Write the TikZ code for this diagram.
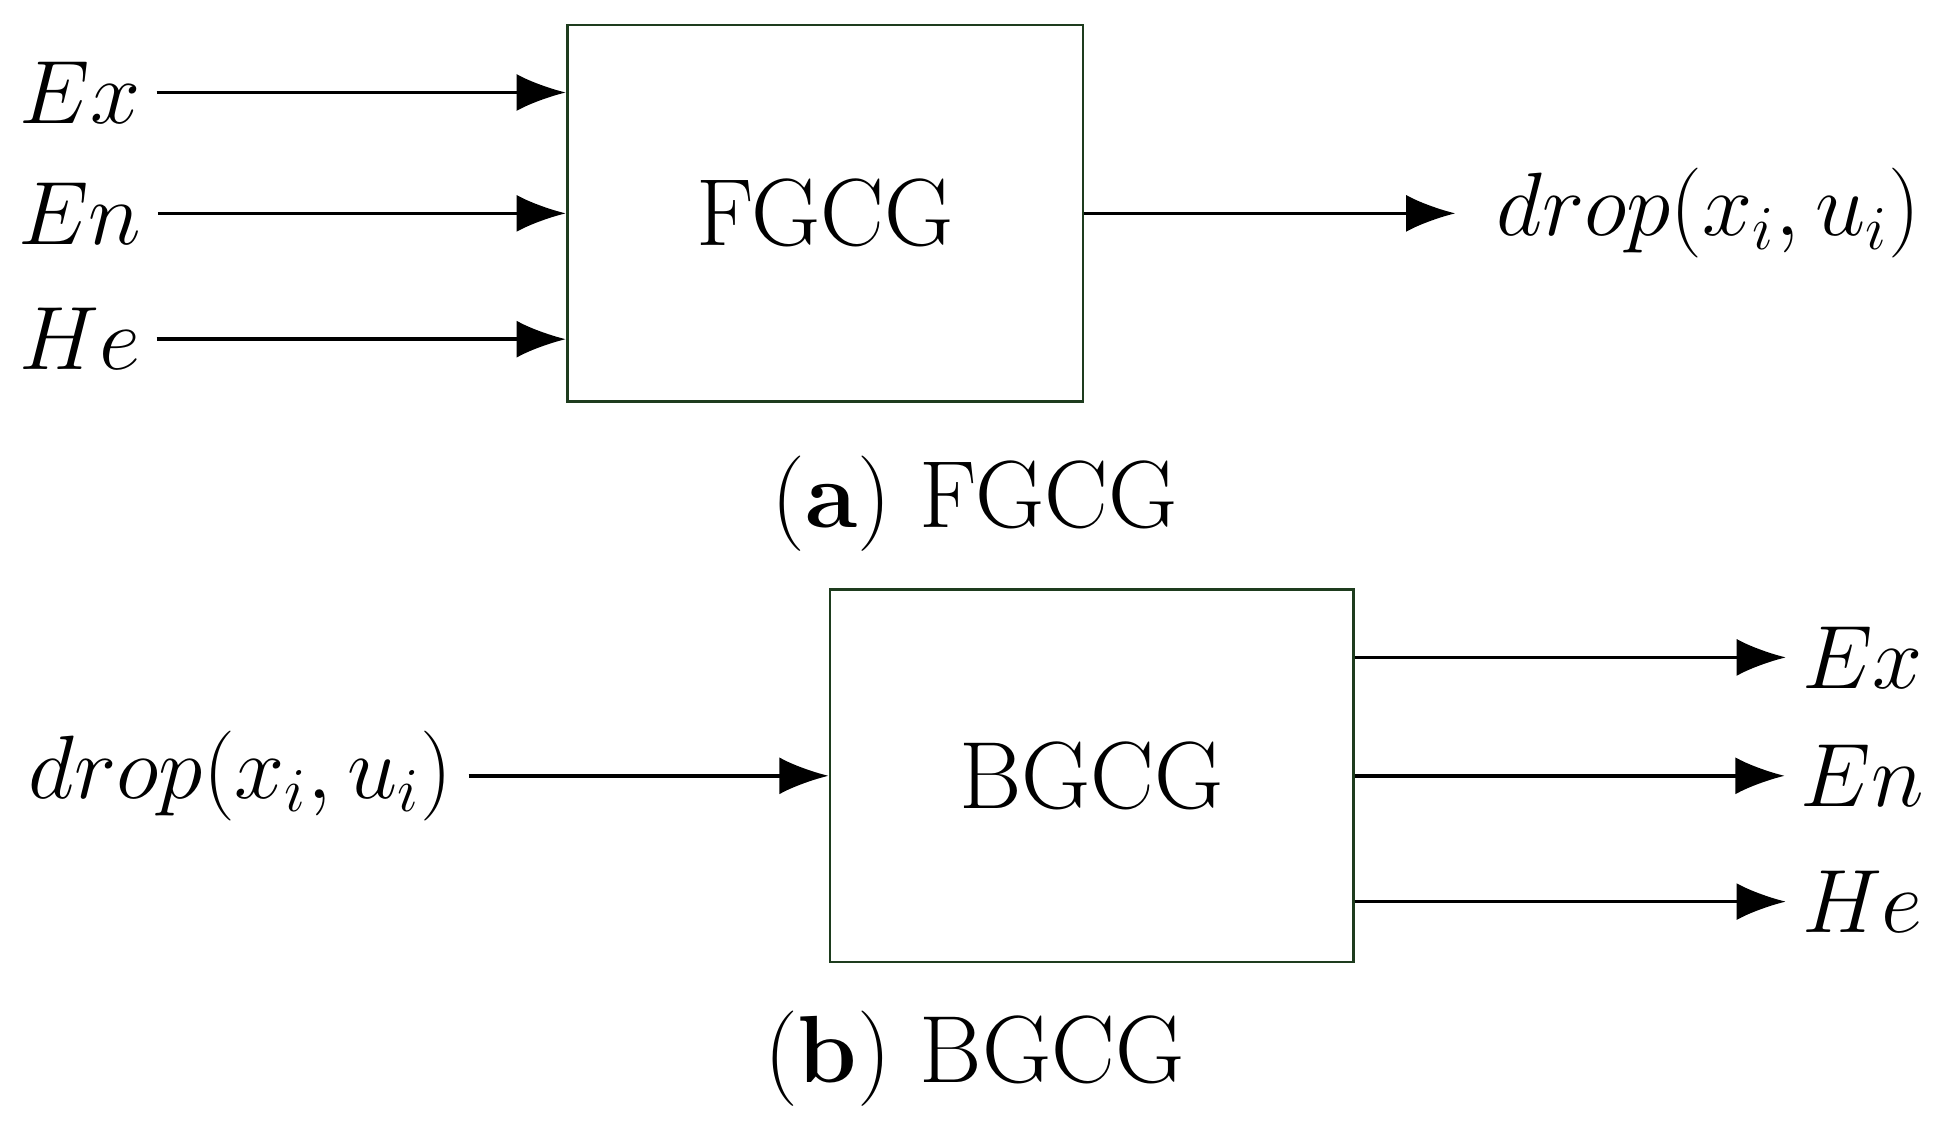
\documentclass[tikz,border=0pt]{standalone}
\usepackage{amsmath,amssymb}
\usetikzlibrary{arrows.meta,positioning}
\definecolor{boxgreen}{RGB}{30,60,30}
\begin{document}
\begin{tikzpicture}[x=0.01cm,y=-0.01cm, thick,
	blk/.style={draw=boxgreen,semithick,minimum width=4.18cm,minimum height=3.05cm,font=\fontsize{22}{24}\selectfont},
	lbl/.style={font=\fontsize{22}{24}\selectfont},
	sig/.style={-{Latex[length=4mm,width=3mm]}}]
	\useasboundingbox (0,0) rectangle (1568,910);
	\node[blk] (fgcg) at (669,173) {FGCG};
	\node[lbl] (ex_a) at (65,75) {$Ex$};
	\node[lbl] (en_a) at (65,173) {$En$};
	\node[lbl] (he_a) at (65,275) {$He$};
	\node[lbl] (drop_a) at (1385,173) {$drop(x_i,u_i)$};
	\coordinate (out_a) at (1180,173);
	\draw[sig] (ex_a.east) -- (fgcg.west |- ex_a);
	\draw[sig] (en_a.east) -- (fgcg.west |- en_a);
	\draw[sig] (he_a.east) -- (fgcg.west |- he_a);
	\draw[sig] (fgcg.east) -- (out_a);
	\node[lbl] (cap_a) at (790,408) {(\textbf{a}) FGCG};
	\node[blk,minimum width=4.24cm,minimum height=3.02cm] (bgcg) at (885,629) {BGCG};
	\node[lbl] (drop_b) at (195,629) {$drop(x_i,u_i)$};
	\node[lbl] (ex_b) at (1510,533) {$Ex$};
	\node[lbl] (en_b) at (1510,629) {$En$};
	\node[lbl] (he_b) at (1510,731) {$He$};
	\draw[sig] (drop_b.east) -- (bgcg.west);
	\draw[sig] (bgcg.east |- ex_b) -- (ex_b.west);
	\draw[sig] (bgcg.east |- en_b) -- (en_b.west);
	\draw[sig] (bgcg.east |- he_b) -- (he_b.west);
	\node[lbl] (cap_b) at (790,858) {(\textbf{b}) BGCG};
\end{tikzpicture}
\end{document}
